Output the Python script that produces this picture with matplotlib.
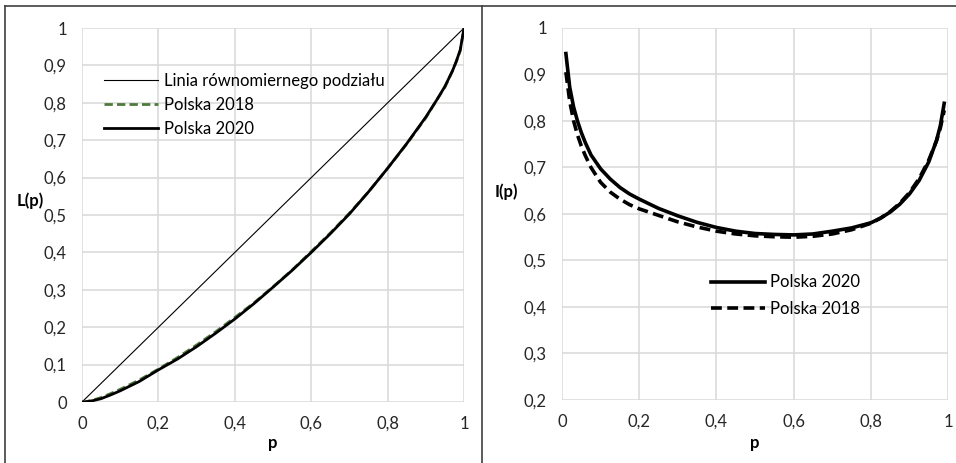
import numpy as np
import matplotlib
matplotlib.use('Agg')
import matplotlib.pyplot as plt
from matplotlib.lines import Line2D
from matplotlib.ticker import FuncFormatter, MultipleLocator

plt.rcParams['font.family'] = ['Lato', 'DejaVu Sans']

# Lorenz curves
p_lor = [0, 0.01, 0.03, 0.05, 0.075, 0.1, 0.15, 0.2, 0.25, 0.3, 0.35, 0.4, 0.45, 0.5,
         0.55, 0.6, 0.65, 0.7, 0.75, 0.8, 0.85, 0.9, 0.93, 0.95, 0.97, 0.98, 0.99, 1.0]
lor_2018 = [0, 0.0009, 0.0056, 0.012, 0.0226, 0.034, 0.059, 0.088, 0.119, 0.1525, 0.188, 0.226, 0.265, 0.308,
            0.353, 0.402, 0.452, 0.505, 0.562, 0.625, 0.690, 0.760, 0.810, 0.842, 0.886, 0.910, 0.940, 1.0]
lor_2020 = [0, 0.0006, 0.004, 0.009, 0.019, 0.030, 0.055, 0.086, 0.115, 0.148, 0.184, 0.222, 0.263, 0.307,
            0.352, 0.400, 0.450, 0.503, 0.562, 0.625, 0.691, 0.762, 0.810, 0.844, 0.886, 0.912, 0.941, 1.0]
equal_line = [0, 1]

# Zenga curves I(p)
p_z = [0.01, 0.02, 0.03, 0.04, 0.05, 0.06, 0.075, 0.1, 0.125, 0.15, 0.175, 0.2, 0.25, 0.3, 0.35, 0.4,
       0.45, 0.5, 0.55, 0.6, 0.65, 0.7, 0.75, 0.8, 0.825, 0.85, 0.875, 0.9, 0.925, 0.95, 0.97, 0.98, 0.99]
zenga_2020 = [0.945, 0.872, 0.830, 0.800, 0.775, 0.754, 0.727, 0.697, 0.675, 0.657, 0.643, 0.632, 0.612, 0.596, 0.582, 0.571,
              0.563, 0.558, 0.556, 0.555, 0.557, 0.563, 0.570, 0.581, 0.591, 0.604, 0.621, 0.643, 0.672, 0.712, 0.758, 0.790, 0.838]
zenga_2018 = [0.905, 0.842, 0.800, 0.770, 0.746, 0.726, 0.700, 0.668, 0.647, 0.632, 0.620, 0.611, 0.597, 0.583, 0.572, 0.563,
              0.557, 0.553, 0.551, 0.550, 0.552, 0.557, 0.566, 0.580, 0.591, 0.605, 0.623, 0.646, 0.676, 0.716, 0.757, 0.785, 0.823]

GRID = '#d9d9d9'
FS = 12

def comma(v, pos):
    s = f'{v:.1f}'.rstrip('0').rstrip('.')
    return s.replace('.', ',')

def style(ax):
    for s in ax.spines.values():
        s.set_visible(False)
    ax.grid(True, color=GRID, lw=1.1)
    ax.set_axisbelow(True)
    ax.tick_params(length=0, labelsize=FS, colors='#262626')
    ax.tick_params(axis='x', pad=10)
    ax.tick_params(axis='y', pad=11)
    ax.xaxis.set_major_locator(MultipleLocator(0.2))
    ax.yaxis.set_major_locator(MultipleLocator(0.1))
    ax.xaxis.set_major_formatter(FuncFormatter(comma))
    ax.yaxis.set_major_formatter(FuncFormatter(comma))

fig = plt.figure(figsize=(9.56, 4.63), dpi=100)

ax1 = fig.add_axes([0.0858, 0.1317, 0.3996, 0.8078])
style(ax1)
ax1.plot(equal_line, equal_line, color='black', lw=0.8, label='Linia równomiernego podziału')
ax1.plot(p_lor, lor_2018, color='#4e7a3a', lw=2.0, ls=(0, (3, 1.5)), label='Polska 2018')
ax1.plot(p_lor, lor_2020, color='black', lw=2.0, label='Polska 2020')
ax1.set_xlim(0, 1)
ax1.set_ylim(0, 1)
ax1.legend(loc='upper left', bbox_to_anchor=(0.058, 0.879), frameon=False, fontsize=FS,
           handlelength=3.25, handletextpad=0.35, labelspacing=0.47, borderpad=0, borderaxespad=0)
fig.text(30 / 956, 1 - 201 / 463, 'L(p)', fontsize=FS, fontweight='bold', ha='center', va='center')
fig.text(273 / 956, 1 - 443 / 463, 'p', fontsize=FS, fontweight='bold', ha='center', va='center')

ax2 = fig.add_axes([0.5879, 0.1361, 0.4038, 0.8035])
style(ax2)
ax2.plot(p_z, zenga_2020, color='black', lw=2.6, label='Polska 2020')
ax2.plot(p_z, zenga_2018, color='black', lw=2.6, ls=(0, (3, 1.5)), label='Polska 2018')
ax2.set_xlim(0, 1)
ax2.set_ylim(0.2, 1)
ax2.legend(loc='upper left', bbox_to_anchor=(0.386, 0.3376), frameon=False, fontsize=FS,
           handlelength=3.25, handletextpad=0.3, labelspacing=0.65, borderpad=0, borderaxespad=0)
fig.text(506 / 956, 1 - 192 / 463, 'I(p)', fontsize=FS, fontweight='bold', ha='center', va='center')
fig.text(755 / 956, 1 - 443 / 463, 'p', fontsize=FS, fontweight='bold', ha='center', va='center')

# chart frames
fc = '#404040'
fig.add_artist(Line2D([5 / 956, 5 / 956], [0, 1 - 6 / 463], transform=fig.transFigure, color=fc, lw=1.2))
fig.add_artist(Line2D([482 / 956, 482 / 956], [0, 1 - 6 / 463], transform=fig.transFigure, color=fc, lw=1.2))
fig.add_artist(Line2D([5 / 956, 1], [1 - 6 / 463, 1 - 6 / 463], transform=fig.transFigure, color=fc, lw=1.2))

fig.savefig('out.png', dpi=100)
